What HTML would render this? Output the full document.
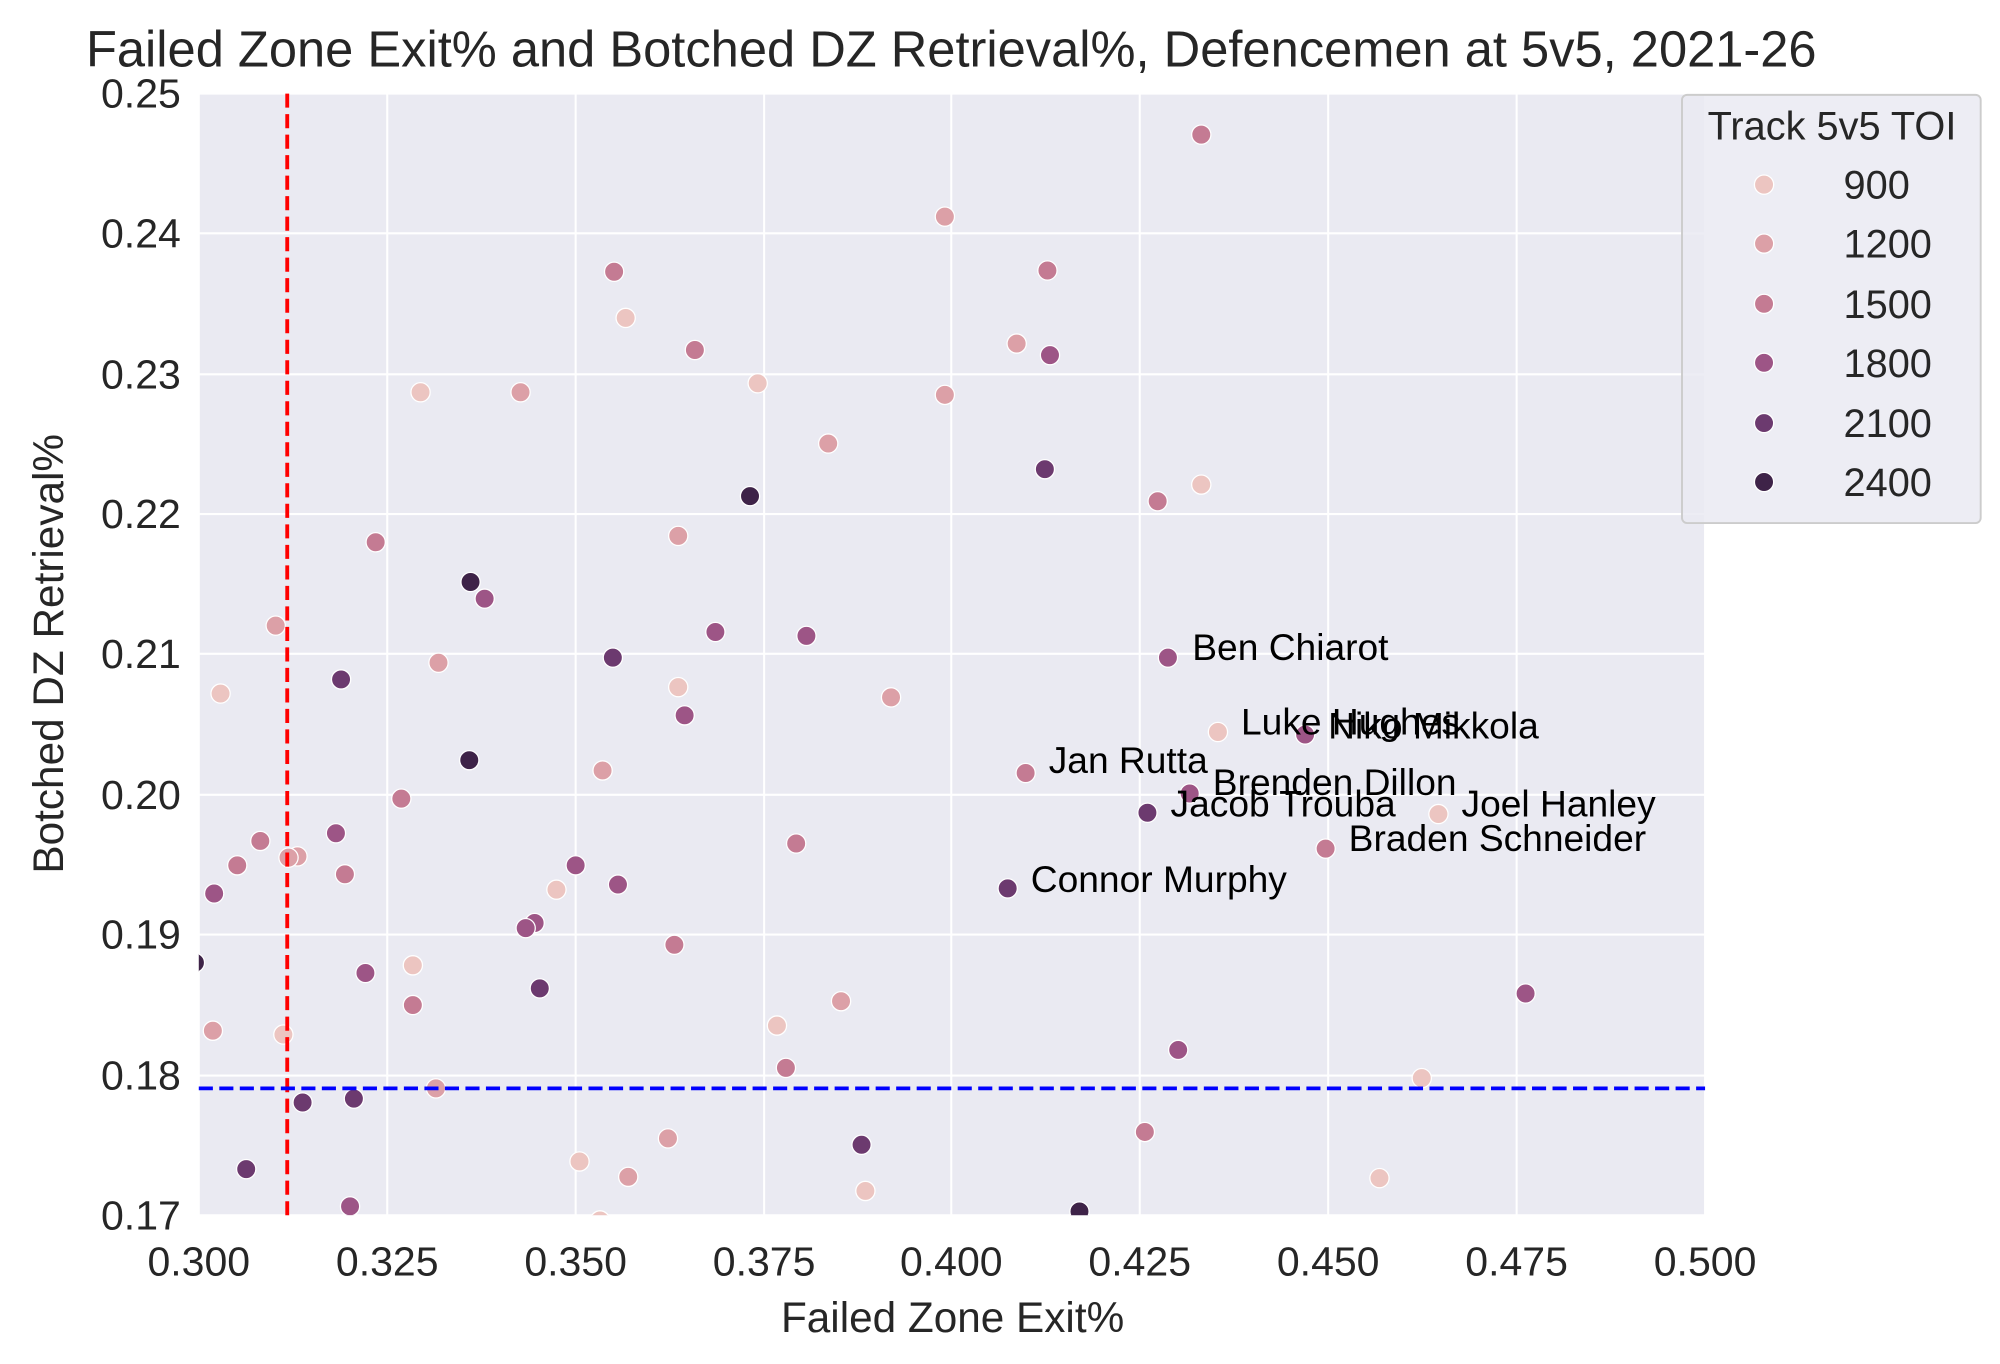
<!DOCTYPE html>
<html><head><meta charset="utf-8"><style>html,body{margin:0;padding:0;background:#fff}svg{display:block}text{font-family:"Liberation Sans",Arial,sans-serif;fill:#262626}</style></head>
<body>
<svg width="2000" height="1364" viewBox="0 0 1560 1064" xmlns="http://www.w3.org/2000/svg">
<defs><clipPath id="c"><rect x="155" y="73" width="1175" height="875"/></clipPath></defs>
<rect x="155" y="73" width="1175" height="875" fill="#eaeaf2"/>
<g stroke="#fff" stroke-width="1.6">
<line x1="155" y1="73" x2="155" y2="948"/><line x1="302" y1="73" x2="302" y2="948"/><line x1="449" y1="73" x2="449" y2="948"/><line x1="596" y1="73" x2="596" y2="948"/><line x1="742" y1="73" x2="742" y2="948"/><line x1="889" y1="73" x2="889" y2="948"/><line x1="1036" y1="73" x2="1036" y2="948"/><line x1="1183" y1="73" x2="1183" y2="948"/><line x1="1330" y1="73" x2="1330" y2="948"/>
<line x1="155" y1="73" x2="1330" y2="73"/><line x1="155" y1="182" x2="1330" y2="182"/><line x1="155" y1="292" x2="1330" y2="292"/><line x1="155" y1="401" x2="1330" y2="401"/><line x1="155" y1="510" x2="1330" y2="510"/><line x1="155" y1="620" x2="1330" y2="620"/><line x1="155" y1="729" x2="1330" y2="729"/><line x1="155" y1="839" x2="1330" y2="839"/><line x1="155" y1="948" x2="1330" y2="948"/>
</g>
<g clip-path="url(#c)" stroke="#fff" stroke-width="1">
<g fill="#ecc5c1">
<circle cx="488" cy="248" r="7.5"/><circle cx="328" cy="306" r="7.5"/><circle cx="591" cy="299" r="7.5"/><circle cx="937" cy="378" r="7.5"/><circle cx="172" cy="541" r="7.5"/><circle cx="529" cy="536" r="7.5"/><circle cx="950" cy="571" r="7.5"/><circle cx="1122" cy="635" r="7.5"/><circle cx="434" cy="694" r="7.5"/><circle cx="322" cy="753" r="7.5"/><circle cx="606" cy="800" r="7.5"/><circle cx="221" cy="807" r="7.5"/><circle cx="1109" cy="841" r="7.5"/><circle cx="452" cy="906" r="7.5"/><circle cx="1076" cy="919" r="7.5"/><circle cx="675" cy="929" r="7.5"/><circle cx="468" cy="952" r="7.5"/>
</g>
<g fill="#dca0a7">
<circle cx="737" cy="169" r="7.5"/><circle cx="793" cy="268" r="7.5"/><circle cx="406" cy="306" r="7.5"/><circle cx="737" cy="308" r="7.5"/><circle cx="646" cy="346" r="7.5"/><circle cx="529" cy="418" r="7.5"/><circle cx="215" cy="488" r="7.5"/><circle cx="342" cy="517" r="7.5"/><circle cx="695" cy="544" r="7.5"/><circle cx="470" cy="601" r="7.5"/><circle cx="232" cy="668" r="7.5"/><circle cx="225" cy="669" r="7.5"/><circle cx="656" cy="781" r="7.5"/><circle cx="166" cy="804" r="7.5"/><circle cx="340" cy="849" r="7.5"/><circle cx="521" cy="888" r="7.5"/><circle cx="490" cy="918" r="7.5"/>
</g>
<g fill="#c47b93">
<circle cx="937" cy="105" r="7.5"/><circle cx="479" cy="212" r="7.5"/><circle cx="817" cy="211" r="7.5"/><circle cx="542" cy="273" r="7.5"/><circle cx="903" cy="391" r="7.5"/><circle cx="293" cy="423" r="7.5"/><circle cx="800" cy="603" r="7.5"/><circle cx="313" cy="623" r="7.5"/><circle cx="203" cy="656" r="7.5"/><circle cx="185" cy="675" r="7.5"/><circle cx="621" cy="658" r="7.5"/><circle cx="1034" cy="662" r="7.5"/><circle cx="269" cy="682" r="7.5"/><circle cx="526" cy="737" r="7.5"/><circle cx="322" cy="784" r="7.5"/><circle cx="613" cy="833" r="7.5"/><circle cx="893" cy="883" r="7.5"/>
</g>
<g fill="#9d5586">
<circle cx="819" cy="277" r="7.5"/><circle cx="378" cy="467" r="7.5"/><circle cx="558" cy="493" r="7.5"/><circle cx="629" cy="496" r="7.5"/><circle cx="911" cy="513" r="7.5"/><circle cx="534" cy="558" r="7.5"/><circle cx="1018" cy="573" r="7.5"/><circle cx="928" cy="619" r="7.5"/><circle cx="262" cy="650" r="7.5"/><circle cx="167" cy="697" r="7.5"/><circle cx="449" cy="675" r="7.5"/><circle cx="482" cy="690" r="7.5"/><circle cx="417" cy="720" r="7.5"/><circle cx="410" cy="724" r="7.5"/><circle cx="285" cy="759" r="7.5"/><circle cx="1190" cy="775" r="7.5"/><circle cx="919" cy="819" r="7.5"/><circle cx="273" cy="941" r="7.5"/>
</g>
<g fill="#6c3a6f">
<circle cx="815" cy="366" r="7.5"/><circle cx="478" cy="513" r="7.5"/><circle cx="266" cy="530" r="7.5"/><circle cx="895" cy="634" r="7.5"/><circle cx="786" cy="693" r="7.5"/><circle cx="421" cy="771" r="7.5"/><circle cx="236" cy="860" r="7.5"/><circle cx="276" cy="857" r="7.5"/><circle cx="672" cy="893" r="7.5"/><circle cx="192" cy="912" r="7.5"/>
</g>
<g fill="#3e2348">
<circle cx="585" cy="387" r="7.5"/><circle cx="367" cy="454" r="7.5"/><circle cx="366" cy="593" r="7.5"/><circle cx="152" cy="751" r="7.5"/><circle cx="842" cy="945" r="7.5"/>
</g>
</g>
<line x1="224" y1="73" x2="224" y2="948" stroke="#ff0000" stroke-width="3" stroke-dasharray="11,5"/>
<line x1="155" y1="849" x2="1330" y2="849" stroke="#0000ff" stroke-width="3" stroke-dasharray="11,5"/>
<g font-size="29">
<text x="930" y="515" style="fill:#000">Ben Chiarot</text>
<text x="968" y="573" style="fill:#000">Luke Hughes</text>
<text x="1036" y="576" style="fill:#000">Niko Mikkola</text>
<text x="818" y="603" style="fill:#000">Jan Rutta</text>
<text x="946" y="620" style="fill:#000">Brenden Dillon</text>
<text x="913" y="637" style="fill:#000">Jacob Trouba</text>
<text x="1140" y="637" style="fill:#000">Joel Hanley</text>
<text x="1052" y="664" style="fill:#000">Braden Schneider</text>
<text x="804" y="696" style="fill:#000">Connor Murphy</text>
</g>
<g font-size="32" text-anchor="middle">
<text x="155" y="995">0.300</text><text x="302" y="995">0.325</text><text x="449" y="995">0.350</text><text x="596" y="995">0.375</text><text x="742" y="995">0.400</text><text x="889" y="995">0.425</text><text x="1036" y="995">0.450</text><text x="1183" y="995">0.475</text><text x="1330" y="995">0.500</text>
</g>
<g font-size="32" text-anchor="end">
<text x="141" y="84">0.25</text><text x="141" y="193">0.24</text><text x="141" y="303">0.23</text><text x="141" y="412">0.22</text><text x="141" y="521">0.21</text><text x="141" y="631">0.20</text><text x="141" y="740">0.19</text><text x="141" y="850">0.18</text><text x="141" y="959">0.17</text>
</g>
<text x="743" y="1039" font-size="33" text-anchor="middle">Failed Zone Exit%</text>
<text transform="translate(49,510) rotate(-90)" font-size="33" text-anchor="middle">Botched DZ Retrieval%</text>
<text x="67" y="52" font-size="39.5">Failed Zone Exit% and Botched DZ Retrieval%, Defencemen at 5v5, 2021-26</text>
<rect x="1312" y="74" width="233" height="334" rx="4" fill="#eaeaf2" fill-opacity="0.85" stroke="#cccccc" stroke-width="1.5"/>
<text x="1429" y="109" font-size="31" text-anchor="middle">Track 5v5 TOI</text>
<g stroke="#fff" stroke-width="1">
<circle cx="1376" cy="144" r="7.5" fill="#ecc5c1"/><circle cx="1376" cy="190" r="7.5" fill="#dca0a7"/><circle cx="1376" cy="237" r="7.5" fill="#c47b93"/><circle cx="1376" cy="283" r="7.5" fill="#9d5586"/><circle cx="1376" cy="330" r="7.5" fill="#6c3a6f"/><circle cx="1376" cy="376" r="7.5" fill="#3e2348"/>
</g>
<g font-size="31">
<text x="1438" y="155">900</text><text x="1438" y="201">1200</text><text x="1438" y="248">1500</text><text x="1438" y="294">1800</text><text x="1438" y="341">2100</text><text x="1438" y="387">2400</text>
</g>
</svg>
</body></html>
